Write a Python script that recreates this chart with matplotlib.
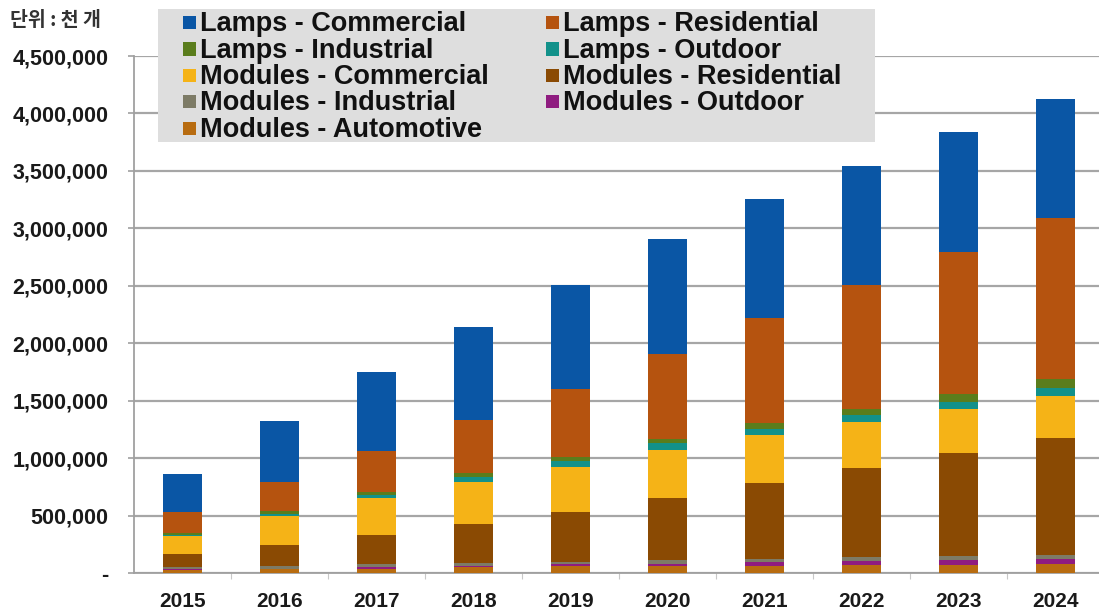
import matplotlib.pyplot as plt
from matplotlib.patches import Rectangle
from matplotlib.ticker import FuncFormatter, FixedLocator

plt.rcParams['font.family'] = ['Liberation Sans', 'DejaVu Sans']

# 단위: 천 개
years = ['2015', '2016', '2017', '2018', '2019', '2020', '2021', '2022', '2023', '2024']

modules_automotive = [28000, 32000, 38000, 50000, 57000, 60000, 64000, 68000, 72000, 76000]
modules_outdoor = [5000, 6000, 10000, 12000, 17000, 22000, 28000, 36000, 42000, 45000]
modules_industrial = [22000, 26000, 28000, 26000, 25000, 32000, 30000, 35000, 36000, 36000]
modules_residential = [114000, 178000, 259000, 340000, 432000, 539000, 662000, 776000, 896000, 1020000]
modules_commercial = [151000, 250000, 318000, 361000, 393000, 420000, 420000, 399000, 385000, 365000]
lamps_outdoor = [15000, 20000, 26000, 47000, 49000, 55000, 53000, 62000, 61000, 66000]
lamps_industrial = [17000, 24000, 26000, 35000, 35000, 41000, 52000, 55000, 64000, 79000]
lamps_residential = [175000, 253000, 361000, 460000, 592000, 741000, 907000, 1076000, 1238000, 1400000]
lamps_commercial = [336000, 533000, 685000, 808000, 907000, 994000, 1036000, 1038000, 1047000, 1043000]

# 아래에서 위로 쌓는 순서
series = [
    ('Modules - Automotive', modules_automotive, '#B86C10'),
    ('Modules - Outdoor', modules_outdoor, '#8F1C80'),
    ('Modules - Industrial', modules_industrial, '#7D7B66'),
    ('Modules - Residential', modules_residential, '#8A4A03'),
    ('Modules - Commercial', modules_commercial, '#F5B317'),
    ('Lamps - Outdoor', lamps_outdoor, '#12918A'),
    ('Lamps - Industrial', lamps_industrial, '#5A7D1C'),
    ('Lamps - Residential', lamps_residential, '#B5530F'),
    ('Lamps - Commercial', lamps_commercial, '#0A56A5'),
]
colors = {name: c for name, _, c in series}

# 범례 순서 (행 우선)
legend_rows = [
    ('Lamps - Commercial', 'Lamps - Residential'),
    ('Lamps - Industrial', 'Lamps - Outdoor'),
    ('Modules - Commercial', 'Modules - Residential'),
    ('Modules - Industrial', 'Modules - Outdoor'),
    ('Modules - Automotive', None),
]

W, H = 1099, 611
fig = plt.figure(figsize=(W / 100, H / 100), dpi=100)
fx = lambda x: x / W
fy = lambda y: 1 - y / H

ax = fig.add_axes([fx(134), 38 / H, 970 / W, 517 / H])

x = list(range(len(years)))
bottom = [0] * len(years)
for name, vals, col in series:
    ax.bar(x, vals, width=0.4, bottom=bottom, color=col, linewidth=0, zorder=3)
    bottom = [b + v for b, v in zip(bottom, vals)]

ax.set_xlim(-0.5, len(years) - 0.5)
ax.set_ylim(0, 4500000)
ax.set_yticks(range(0, 4500001, 500000))
ax.yaxis.set_major_formatter(FuncFormatter(lambda v, p: '-' if v == 0 else f'{int(v):,}'))
ax.yaxis.grid(True, color='#A6A6A6', linewidth=1.6, zorder=0)
ax.set_axisbelow(True)

ax.set_xticks(x)
ax.set_xticklabels(years)
ax.xaxis.set_minor_locator(FixedLocator([i + 0.5 for i in range(len(years) - 1)]))

for s in ['top', 'right']:
    ax.spines[s].set_visible(False)
for s in ['left', 'bottom']:
    ax.spines[s].set_color('#A0A0A0')
    ax.spines[s].set_linewidth(1.3)

ax.tick_params(axis='y', length=4.5, width=1.2, color='#A0A0A0', pad=14,
               labelsize=15.5, labelcolor='#1A1A1A')
ax.tick_params(axis='x', which='major', length=0, pad=14, labelsize=15, labelcolor='#1A1A1A')
ax.tick_params(axis='x', which='minor', length=4, width=0.8, color='#C8C8C8')
for lab in ax.get_xticklabels() + ax.get_yticklabels():
    lab.set_fontweight('bold')

# 범례 (회색 박스)
fig.patches.append(Rectangle((fx(158), fy(142)), (875 - 158) / W, (142 - 9) / H,
                             transform=fig.transFigure, facecolor='#DEDEDE',
                             edgecolor='none', zorder=5))
col_x = [183, 546]
for r, row in enumerate(legend_rows):
    yc = 22.5 + r * 26.5
    for c, name in enumerate(row):
        if name is None:
            continue
        fig.patches.append(Rectangle((fx(col_x[c]), fy(yc + 6.5)), 13 / W, 13 / H,
                                     transform=fig.transFigure, facecolor=colors[name],
                                     edgecolor='none', zorder=6))
        fig.text(fx(col_x[c] + 17), fy(yc + 1.5), name, fontsize=19.5, fontweight='bold',
                 color='#111111', va='center', ha='left', zorder=7)

fig.text(fx(10), fy(20), '단위 : 천 개', fontsize=14, fontweight='bold', color='#333333',
         va='center', ha='left', family=['Noto Sans CJK KR', 'DejaVu Sans'])

fig.savefig('out.png', dpi=100)
